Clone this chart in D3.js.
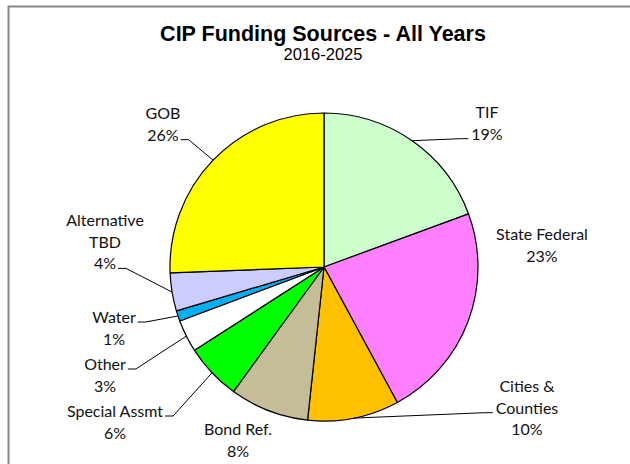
<!DOCTYPE html>
<html>
<head>
<meta charset="utf-8">
<script src="https://cdn.jsdelivr.net/npm/d3@7"></script>
<style>
  body { margin: 0; background: #fff; }
  .title { font-family: "Liberation Sans", Arial, sans-serif; font-weight: bold; font-size: 21.5px; }
  .subtitle { font-family: "Liberation Sans", Arial, sans-serif; font-size: 16.5px; }
  .lbl { font-family: Lato, "Open Sans", sans-serif; font-size: 16px; fill: #111; }
</style>
</head>
<body>
<script>
// 資金源ごとの構成比 (12時から時計回り)
var sources = ["TIF", "State Federal", "Cities & Counties", "Bond Ref.", "Special Assmt", "Other", "Water", "Alternative TBD", "GOB"];
var shares  = [19.4, 22.7, 9.6, 8.3, 5.9, 3.4, 1.1, 4.0, 25.6];
var colors  = ["#CCFFCC", "#FF80FF", "#FFC000", "#C4BD97", "#00FF00", "#FFFFFF", "#00B0F0", "#CCCCFF", "#FFFF00"];
// ラベルの行分け
var label_lines = [["TIF"], ["State Federal"], ["Cities &", "Counties"], ["Bond Ref."], ["Special Assmt"], ["Other"], ["Water"], ["Alternative", "TBD"], ["GOB"]];

// ラベル配置 (中心x, 1行目のベースライン, 引出線をつける行, 引出線の側)
var label_layout = [
  {x: 487, y: 118, line: 1, side: "left"},
  {x: 542, y: 240, line: -1},
  {x: 527, y: 392, line: 1, side: "left"},
  {x: 238, y: 435, line: -1},
  {x: 115, y: 417, line: 0, side: "right"},
  {x: 105, y: 370, line: 0, side: "right"},
  {x: 114, y: 323, line: 0, side: "right"},
  {x: 105, y: 226, line: 2, side: "right"},
  {x: 163, y: 119, line: 1, side: "right"}
];

var W = 630, H = 464;
var cx = 324, cy = 267, R = 154;
var lineH = 21.7;

var svg = d3.select("body").append("svg")
  .attr("width", W)
  .attr("height", H);

// 枠線 (右と下ははみ出し)
svg.append("rect")
  .attr("x", 8.5).attr("y", 6.5)
  .attr("width", W + 20).attr("height", H + 20)
  .attr("fill", "#fff")
  .attr("stroke", "#888")
  .attr("stroke-width", 2);

// タイトル
svg.append("text").attr("class", "title")
  .attr("x", 323).attr("y", 41)
  .attr("text-anchor", "middle")
  .text("CIP Funding Sources - All Years");
svg.append("text").attr("class", "subtitle")
  .attr("x", 323).attr("y", 60)
  .attr("text-anchor", "middle")
  .text("2016-2025");

var data = sources.map(function(s, i){
  return {name: s, value: shares[i], color: colors[i], lines: label_lines[i], pos: label_layout[i]};
});
var total = d3.sum(shares);

var pie = d3.pie().sort(null).value(function(d){ return d.value; });
var arc = d3.arc().innerRadius(0).outerRadius(R);
var arcs = pie(data);

var g = svg.append("g").attr("transform", "translate(" + cx + "," + cy + ")");

g.selectAll("path.slice")
  .data(arcs)
  .enter().append("path")
  .attr("class", "slice")
  .attr("d", arc)
  .attr("fill", function(d){ return d.data.color; })
  .attr("stroke", "#000")
  .attr("stroke-width", 1.2)
  .attr("stroke-linejoin", "round");

// ラベルと引出線
var fmt = function(v){ return Math.round(v / total * 100) + "%"; };
arcs.forEach(function(a){
  var d = a.data;
  var rows = d.lines.concat([fmt(d.value)]);
  var texts = [];
  rows.forEach(function(r, k){
    var t = svg.append("text").attr("class", "lbl")
      .attr("x", d.pos.x)
      .attr("y", d.pos.y + k * lineH)
      .attr("text-anchor", "middle")
      .text(r);
    texts.push(t);
  });
  if(d.pos.line < 0) return; // 引出線なし
  var t = texts[d.pos.line].node();
  var w = t.getComputedTextLength();
  var ty = d.pos.y + d.pos.line * lineH - 1;
  var tx = d.pos.side === "right" ? d.pos.x + w / 2 + 2 : d.pos.x - w / 2 - 3;
  var ex = d.pos.side === "right" ? tx + 8 : tx - 8;
  var mid = (a.startAngle + a.endAngle) / 2;
  var px = cx + R * Math.sin(mid), py = cy - R * Math.cos(mid);
  svg.append("path")
    .attr("d", d3.line()([[px, py], [ex, ty], [tx, ty]]))
    .attr("fill", "none")
    .attr("stroke", "#000")
    .attr("stroke-width", 1);
});
</script>
</body>
</html>
